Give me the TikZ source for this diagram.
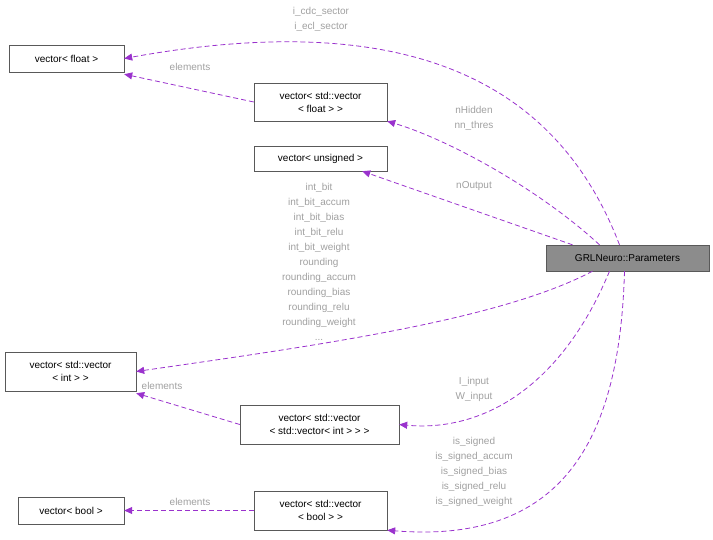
\documentclass[tikz,border=0pt]{standalone}
\usepackage{fontspec}
\setmainfont{Liberation Sans}
\usetikzlibrary{arrows.meta}
\definecolor{edge}{HTML}{9A32CD}
\definecolor{lab}{HTML}{A0A0A0}
\begin{document}
\begin{tikzpicture}[x=1pt,y=-1pt,
 box/.style={draw=black!65,fill=white,align=center,inner sep=0pt,font=\fontsize{10}{13}\selectfont},
 e/.style={draw=edge,dashed,dash pattern=on 5pt off 3pt,-{Triangle[length=8pt,width=7pt]},line width=0.8pt},
 l/.style={text=lab,align=center,font=\fontsize{10}{15}\selectfont,inner sep=0pt}]
\useasboundingbox (0,0) rectangle (713,539);
\node[box,minimum width=115,minimum height=27] (vf) at (66.5,58.5) {vector< float >};
\node[box,minimum width=133,minimum height=38] (vvf) at (320.5,102) {vector< std::vector\\< float > >};
\node[box,minimum width=133,minimum height=25] (vu) at (320.5,158.5) {vector< unsigned >};
\node[box,fill=black!45,minimum width=163,minimum height=26] (p) at (627.5,258) {GRLNeuro::Parameters};
\node[box,minimum width=131,minimum height=39] (vvi) at (70.5,371.5) {vector< std::vector\\< int > >};
\node[box,minimum width=159,minimum height=39] (vvvi) at (319.5,424.5) {vector< std::vector\\< std::vector< int > > >};
\node[box,minimum width=106,minimum height=27] (vb) at (71,510.5) {vector< bool >};
\node[box,minimum width=133,minimum height=39] (vvb) at (320.5,510.5) {vector< std::vector\\< bool > >};

\draw[e] ([xshift=-8pt]p.north) .. controls (560,90) and (420,5) .. (vf.east);
\draw[e] (vvf.west) -- ([yshift=-2pt]vf.south east);
\draw[e] ([xshift=-28pt]p.north) .. controls (540,190) and (450,140) .. (vvf.south east);
\draw[e] ([xshift=-55pt]p.north) -- ([xshift=-25pt]vu.south east);
\draw[e] ([xshift=-35pt]p.south) .. controls (500,320) and (320,345) .. (vvi.east);
\draw[e] (vvvi.west) -- ([yshift=-2pt]vvi.south east);
\draw[e] ([xshift=-18pt]p.south) .. controls (560,390) and (480,432) .. (vvvi.east);
\draw[e] ([xshift=-3pt]p.south) .. controls (620,430) and (570,545) .. (vvb.south east);
\draw[e] (vvb.west) -- (vb.east);

\node[l] (l1) at (321,19) {i\_cdc\_sector\\i\_ecl\_sector};
\node[l] (l2) at (190,67) {elements};
\node[l] (l3) at (474,118) {nHidden\\nn\_thres};
\node[l] (l4) at (474,186) {nOutput};
\node[l] (l5) at (319,262) {int\_bit\\int\_bit\_accum\\int\_bit\_bias\\int\_bit\_relu\\int\_bit\_weight\\rounding\\rounding\_accum\\rounding\_bias\\rounding\_relu\\rounding\_weight\\...};
\node[l] (l6) at (162,386) {elements};
\node[l] (l7) at (474,389) {I\_input\\W\_input};
\node[l] (l8) at (474,472) {is\_signed\\is\_signed\_accum\\is\_signed\_bias\\is\_signed\_relu\\is\_signed\_weight};
\node[l] (l9) at (190,502) {elements};
\end{tikzpicture}
\end{document}
